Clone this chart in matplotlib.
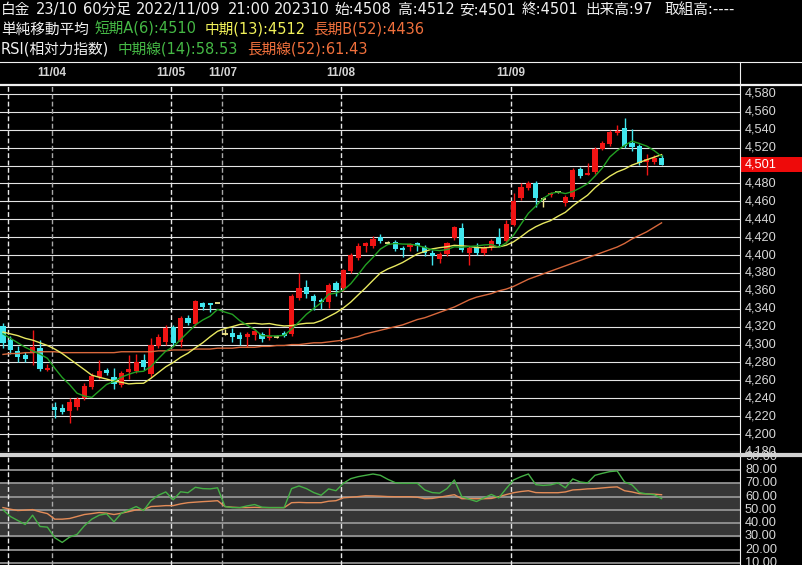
import matplotlib
matplotlib.use("Agg")
import matplotlib.pyplot as plt
from matplotlib.patches import Rectangle
from matplotlib.transforms import blended_transform_factory

plt.rcParams['font.family'] = ['DejaVu Sans', 'Noto Sans CJK JP']

# ---------------- data ----------------
opens = [4321, 4305, 4293, 4288, 4291, 4296, 4272, 4230, 4229, 4226,
         4230, 4240, 4253, 4264, 4272, 4264, 4255, 4269, 4271, 4283,
         4267, 4298, 4303, 4320, 4303, 4330, 4323, 4346, 4346, 4347,
         4312, 4313, 4311, 4308, 4311, 4312, 4307, 4309, 4313, 4312,
         4352, 4364, 4354, 4350, 4348, 4369, 4363, 4382, 4397, 4410,
         4410, 4420, 4414, 4415, 4408, 4409, 4413, 4409, 4402, 4396,
         4401, 4419, 4430, 4402, 4409, 4402, 4409, 4420, 4416, 4434,
         4464, 4475, 4481, 4463, 4467, 4470, 4458, 4465, 4496, 4490,
         4493, 4519, 4524, 4536, 4542, 4525, 4522, 4504, 4504, 4508]
highs = [4324, 4310, 4298, 4292, 4316, 4305, 4278, 4236, 4234, 4240,
         4242, 4257, 4268, 4283, 4274, 4274, 4270, 4288, 4290, 4290,
         4307, 4312, 4322, 4322, 4332, 4333, 4350, 4348, 4347, 4347,
         4317, 4318, 4314, 4314, 4317, 4314, 4318, 4311, 4315, 4356,
         4380, 4372, 4356, 4352, 4369, 4371, 4385, 4402, 4413, 4415,
         4421, 4423, 4416, 4417, 4410, 4413, 4415, 4411, 4406, 4404,
         4415, 4433, 4436, 4410, 4413, 4410, 4418, 4430, 4439, 4469,
         4481, 4483, 4483, 4465, 4471, 4471, 4467, 4497, 4498, 4503,
         4521, 4527, 4540, 4545, 4553, 4541, 4524, 4513, 4512, 4512]
lows = [4296, 4290, 4281, 4280, 4277, 4271, 4270, 4218, 4222, 4212,
        4227, 4238, 4250, 4262, 4266, 4250, 4253, 4262, 4268, 4272,
        4264, 4296, 4300, 4300, 4297, 4322, 4321, 4339, 4336, 4347,
        4311, 4303, 4300, 4297, 4305, 4303, 4305, 4307, 4308, 4310,
        4350, 4352, 4339, 4340, 4341, 4354, 4360, 4380, 4395, 4403,
        4408, 4413, 4412, 4405, 4398, 4405, 4405, 4399, 4389, 4391,
        4399, 4417, 4403, 4389, 4400, 4400, 4406, 4410, 4413, 4432,
        4462, 4473, 4454, 4454, 4465, 4469, 4455, 4463, 4486, 4489,
        4491, 4517, 4522, 4534, 4520, 4516, 4501, 4490, 4502, 4501]
closes = [4302, 4294, 4286, 4284, 4297, 4273, 4274, 4227, 4225, 4236,
          4239, 4254, 4265, 4271, 4268, 4256, 4268, 4273, 4281, 4275,
          4300, 4309, 4318, 4302, 4330, 4324, 4349, 4342, 4344, 4347,
          4312, 4309, 4306, 4312, 4315, 4306, 4310, 4309, 4310, 4354,
          4363, 4357, 4349, 4348, 4367, 4361, 4383, 4400, 4410, 4413,
          4418, 4416, 4414, 4407, 4406, 4412, 4410, 4402, 4399, 4401,
          4413, 4431, 4406, 4408, 4402, 4408, 4416, 4412, 4435, 4460,
          4476, 4481, 4464, 4463, 4469, 4470, 4465, 4495, 4488, 4492,
          4519, 4525, 4538, 4539, 4522, 4521, 4503, 4507, 4508, 4501]

ma_short = [4312, 4307, 4302, 4297, 4293, 4289.3, 4284.7, 4273.5, 4263.3, 4255.3,
            4245.7, 4242.5, 4241.0, 4248.3, 4255.5, 4258.8, 4263.7, 4266.8, 4269.5, 4270.2,
            4275.5, 4284.3, 4292.7, 4297.5, 4305.7, 4313.8, 4322.0, 4327.5, 4331.8, 4339.3,
            4336.3, 4333.8, 4326.7, 4321.7, 4316.8, 4310.0, 4309.7, 4309.7, 4310.3, 4317.3,
            4325.3, 4333.8, 4340.3, 4346.8, 4356.3, 4357.5, 4360.8, 4368.0, 4378.2, 4389.0,
            4397.5, 4406.7, 4411.8, 4413.0, 4412.3, 4412.2, 4410.8, 4408.5, 4406.0, 4405.0,
            4406.2, 4409.3, 4408.7, 4409.7, 4410.2, 4411.3, 4411.8, 4408.7, 4413.5, 4422.2,
            4434.5, 4446.7, 4454.7, 4463.2, 4468.8, 4470.5, 4468.7, 4471.0, 4475.0, 4479.8,
            4488.2, 4497.3, 4509.5, 4516.8, 4522.5, 4527.3, 4524.7, 4521.7, 4516.7, 4510.3]
ma_mid = [4314, 4312, 4310, 4307, 4305, 4302, 4299, 4295, 4290, 4284,
          4278, 4272, 4265.8, 4263.5, 4261.5, 4259.2, 4257.9, 4256.1, 4256.7, 4256.8,
          4262.4, 4268.8, 4275.2, 4280.0, 4285.8, 4290.4, 4296.4, 4302.1, 4308.8, 4314.9,
          4317.9, 4320.1, 4322.5, 4323.4, 4323.8, 4322.9, 4323.5, 4321.9, 4320.8, 4321.2,
          4322.8, 4323.8, 4324.0, 4326.8, 4331.2, 4335.5, 4340.9, 4347.5, 4355.5, 4363.4,
          4371.8, 4380.0, 4384.5, 4387.9, 4391.7, 4396.5, 4401.3, 4404.0, 4406.9, 4408.3,
          4409.3, 4410.9, 4410.4, 4409.6, 4408.5, 4408.1, 4408.8, 4409.2, 4411.0, 4414.8,
          4420.5, 4426.8, 4431.7, 4435.5, 4438.5, 4443.4, 4447.8, 4454.9, 4461.1, 4466.9,
          4475.2, 4482.1, 4488.1, 4492.9, 4496.1, 4500.5, 4503.5, 4506.5, 4509.4, 4512.2]
ma_long = [4289, 4290, 4290, 4291, 4291, 4292, 4292, 4292, 4291, 4291,
           4291, 4291, 4291, 4291, 4291, 4291, 4292, 4292, 4292, 4292,
           4292, 4293, 4293, 4294, 4294, 4294, 4295, 4295, 4295, 4296,
           4296, 4296, 4297, 4297, 4297, 4298, 4298, 4299, 4299, 4300,
           4300, 4301, 4302, 4302, 4303, 4304, 4305, 4307, 4309, 4312,
           4314, 4316, 4318, 4320, 4322, 4325, 4328, 4330, 4333, 4336,
           4339, 4342, 4346, 4350, 4353, 4355, 4357, 4360, 4362, 4365,
           4369, 4373, 4376, 4379, 4382, 4385, 4388, 4391, 4394, 4397,
           4400, 4403, 4406, 4409, 4413, 4418, 4422, 4426, 4431, 4436]

rsi_mid = [50, 45, 42, 39, 46, 37.5, 37, 29, 25.5, 29.5,
           31.5, 38, 43, 46, 47, 41, 47.5, 50, 52.5, 49.5,
           57, 61, 63.5, 57.6, 63.6, 62.9, 67, 66, 65.8, 66.6,
           52.5, 51.7, 51.7, 53, 54, 52, 51.7, 51.7, 51.7, 66,
           68, 66, 63, 61, 65.8, 64.4, 70, 73.5, 75, 76,
           77, 76, 73, 70.5, 70, 70, 70, 65, 63, 62.6,
           66, 72.5, 60, 58, 56.3, 59, 61.6, 59, 66, 72.5,
           75, 77, 69, 68.4, 68.8, 70.3, 66.6, 73.3, 71, 70.3,
           76, 77.5, 78.8, 79.3, 71, 68.8, 63, 62, 61.4, 58.5]
rsi_long = [51.7, 50.5, 49.5, 49.8, 50.2, 48.5, 47.2, 43, 43, 43.5,
            45, 46.5, 47.2, 48, 47.5, 46.5, 47.5, 48.7, 50, 50.2,
            52.5, 52.8, 53.2, 53.2, 54.5, 55.4, 55.8, 56.2, 56.5, 56.9,
            52.5, 52, 51.7, 51.7, 51.9, 51.7, 51.7, 51.7, 51.7, 55.4,
            55.6, 55.4, 55.4, 55.4, 56.5, 56.9, 59.1, 59.5, 60, 60.6,
            60.5, 60.3, 60, 59.9, 59.9, 59.9, 59.5, 58.4, 58.6, 59.5,
            60.5, 61.4, 58.4, 58.4, 58.4, 58.4, 58.6, 59.9, 61.5, 62.9,
            63.8, 64.4, 63, 62.9, 62.9, 62.9, 63.5, 65, 65.3, 65.8,
            66, 66.5, 67, 67.3, 64.4, 63.5, 62.2, 62, 61.8, 61.4]

day_start_idx = [1, 7, 23, 30, 46, 69]
day_labels = ['', '11/04', '11/05', '11/07', '11/08', '11/09']
price_ticks = [4580, 4560, 4540, 4520, 4500, 4480, 4460, 4440, 4420, 4400,
               4380, 4360, 4340, 4320, 4300, 4280, 4260, 4240, 4220, 4200, 4180]
rsi_ticks = [90, 80, 70, 60, 50, 40, 30, 20, 10]
last_price = 4501

WHITE, GREEN, YELLOW, ORANGE = '#f0f0f0', '#45b845', '#f2f25a', '#f0703c'
header1 = ["白金", "23/10", "60分足", "2022/11/09", "21:00", "202310", "始:4508",
           "高:4512", "安:4501", "終:4501", "出来高:97", "取組高:----"]
header2 = ["単純移動平均", "短期A(6):4510", "中期(13):4512", "長期B(52):4436"]
header3 = ["RSI(相対力指数)", "中期線(14):58.53", "長期線(52):61.43"]

# ---------------- styles / layout ----------------
h1_x = [0, 35, 82, 135, 227, 273, 333, 397, 458, 521, 584, 664]
h2_x = [0, 94, 204, 312]
h2_c = [WHITE, GREEN, YELLOW, ORANGE]
h3_x = [0, 117, 246]
h3_c = [WHITE, GREEN, ORANGE]

UP, DOWN, DOJI = '#f01414', '#40e6ee', '#f0e68c'
W, H = 802, 565
X_LO, X_HI = -0.405, 99.6
NUM_FONT = 'Liberation Sans'

fig = plt.figure(figsize=(W / 100, H / 100), dpi=100)
fig.patch.set_facecolor('black')


def frect(x0, y0, x1, y1):
    return [x0 / W, 1 - y1 / H, (x1 - x0) / W, (y1 - y0) / H]


def clean(a):
    a.set_facecolor('black')
    a.set_xticks([])
    a.set_yticks([])
    for s in a.spines.values():
        s.set_visible(False)


# header band with date labels
axh = fig.add_axes(frect(0, 62, 740, 85))
clean(axh)
axh.set_xlim(X_LO, X_HI)
axh.set_ylim(0, 1)

# main price panel
ax = fig.add_axes(frect(0, 86, 740, 452))
clean(ax)
ax.set_xlim(X_LO, X_HI)
ax.set_ylim(4180, 4588.9)

# RSI panel
axr = fig.add_axes(frect(0, 453, 740, 565))
clean(axr)
axr.set_xlim(X_LO, X_HI)
axr.set_ylim(8.5, 92.8)

# grid
for v in price_ticks:
    ax.axhline(v, color='#e4e4e4', lw=0.8, zorder=1)
axr.axhspan(30, 70, color='#363636', zorder=0)
for v in rsi_ticks[1:]:
    axr.axhline(v, color='#9c9c9c', lw=1.2, zorder=1)

# day separators
for d, lab in zip(day_start_idx, day_labels):
    col = '#a8a8a8' if lab in ('11/04', '11/07') else '#e8e8e8'
    for a in (ax, axr):
        a.axvline(d - 0.35, color=col, lw=1.0, dashes=(3.5, 1.8), zorder=1.5)
    if lab:
        axh.text(d - 0.35, 0.5, lab, ha='center', va='center', color='#d4d4d4',
                 fontsize=8.5, fontweight='bold', family=NUM_FONT)

# candles
xs = list(range(len(closes)))
for i, o, h, l, c in zip(xs, opens, highs, lows, closes):
    col = UP if c > o else (DOWN if c < o else DOJI)
    ax.vlines(i, l, h, color=col, lw=1.0, zorder=2)
    if c != o:
        ax.bar(i, abs(c - o), bottom=min(o, c), width=0.7, color=col, lw=0, zorder=2.5)
    else:
        ax.hlines(o, i - 0.36, i + 0.36, color=col, lw=1.3, zorder=2.5)

# moving averages
ax.plot(xs, ma_long, color='#d8683c', lw=1.0, zorder=3)
ax.plot(xs, ma_mid, color='#e8e860', lw=1.0, zorder=3)
ax.plot(xs, ma_short, color='#23a023', lw=1.0, zorder=3)

# RSI
axr.plot(xs, rsi_long, color='#e48c58', lw=1.0, zorder=3)
axr.plot(xs, rsi_mid, color='#45b045', lw=1.0, zorder=3)

# right-hand labels
bt = blended_transform_factory(ax.transAxes, ax.transData)
for v in price_ticks:
    ax.text(1 + 5 / 740, v, f"{v:,}", transform=bt, ha='left', va='center',
            color='#d8d8d8', fontsize=9.2, family=NUM_FONT, clip_on=False, zorder=5)
ax.add_patch(Rectangle((1.0, last_price - 8.6), 62 / 740, 17.2, transform=bt,
                       facecolor='#ee0a0a', edgecolor='none', clip_on=False, zorder=6))
ax.text(1 + 5 / 740, last_price, f"{last_price:,}", transform=bt, ha='left', va='center',
        color='white', fontsize=9.2, family=NUM_FONT, clip_on=False, zorder=7)

btr = blended_transform_factory(axr.transAxes, axr.transData)
for v in rsi_ticks:
    axr.text(1 + 5 / 740, v, f"{v:.2f}", transform=btr, ha='left', va='center',
             color='#d8d8d8', fontsize=9.2, family=NUM_FONT, clip_on=False, zorder=5)

# overlay for frame lines and header text (pixel coordinates)
ov = fig.add_axes([0, 0, 1, 1], zorder=10)
ov.set_xlim(0, W)
ov.set_ylim(H, 0)
ov.axis('off')
ov.patch.set_alpha(0)
ov.plot([0, W], [61.5, 61.5], color='#f0f0f0', lw=0.8)
ov.plot([0, W], [85, 85], color='#f0f0f0', lw=1.6)
ov.plot([739.5, 739.5], [61.5, H], color='#f0f0f0', lw=0.8)
ov.plot([0, W], [454.5, 454.5], color='#d2d2d2', lw=3.0)

# header texts: font size fitted so the CJK run matches the reference width
renderer = fig.canvas.get_renderer()
probe = ov.text(0, 0, header2[0], fontsize=10)
fs = 10 * 88 / probe.get_window_extent(renderer).width
probe.remove()

for s, x in zip(header1, h1_x):
    ov.text(x + 1, 14, s, color=WHITE, fontsize=fs, va='baseline', ha='left')
for s, x, c in zip(header2, h2_x, h2_c):
    ov.text(x + 1, 34, s, color=c, fontsize=fs, va='baseline', ha='left')
for s, x, c in zip(header3, h3_x, h3_c):
    ov.text(x + 1, 54, s, color=c, fontsize=fs, va='baseline', ha='left')

fig.savefig('out.png', dpi=100, facecolor='black')
